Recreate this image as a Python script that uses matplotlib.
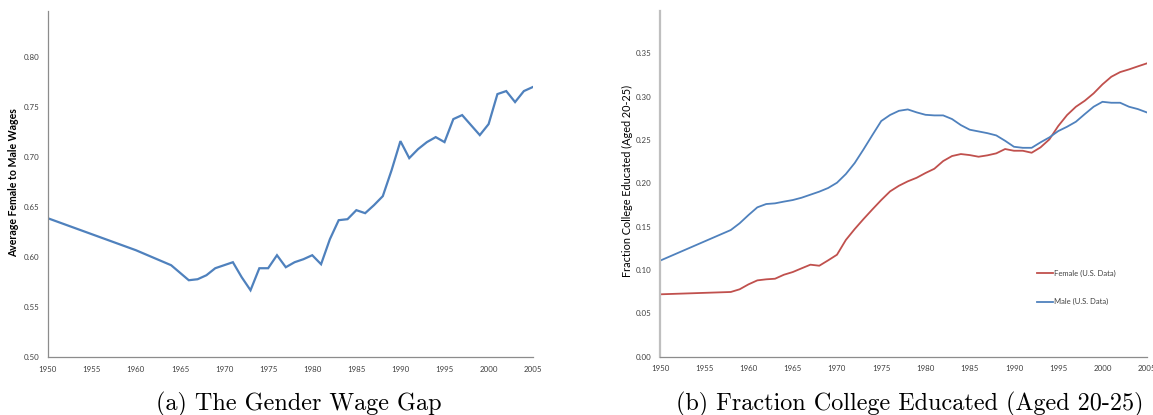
import matplotlib
matplotlib.use("Agg")
import matplotlib.pyplot as plt

# Panel (a): ratio of average female to male wages
wage_years = [1950, 1960, 1964, 1966, 1967, 1968, 1969, 1970, 1971, 1972, 1973,
              1974, 1975, 1976, 1977, 1978, 1979, 1980, 1981, 1982, 1983, 1984,
              1985, 1986, 1987, 1988, 1989, 1990, 1991, 1992, 1993, 1994, 1995,
              1996, 1997, 1998, 1999, 2000, 2001, 2002, 2003, 2004, 2005]
wage_ratio = [0.639, 0.607, 0.592, 0.577, 0.578, 0.582, 0.589, 0.592, 0.595, 0.580, 0.567,
              0.589, 0.589, 0.602, 0.590, 0.595, 0.598, 0.602, 0.593, 0.618, 0.637, 0.638,
              0.647, 0.644, 0.652, 0.661, 0.687, 0.716, 0.699, 0.708, 0.715, 0.720, 0.715,
              0.738, 0.742, 0.732, 0.722, 0.733, 0.763, 0.766, 0.755, 0.766, 0.770]

# Panel (b): fraction college educated, aged 20-25
edu_years = [1950, 1958, 1959, 1960, 1961, 1962, 1963, 1964, 1965, 1966, 1967, 1968,
             1969, 1970, 1971, 1972, 1973, 1974, 1975, 1976, 1977, 1978, 1979, 1980,
             1981, 1982, 1983, 1984, 1985, 1986, 1987, 1988, 1989, 1990, 1991, 1992,
             1993, 1994, 1995, 1996, 1997, 1998, 1999, 2000, 2001, 2002, 2003, 2004, 2005]
female_frac = [0.072, 0.0747, 0.0778, 0.0835, 0.0881, 0.0893, 0.0900, 0.0946, 0.0977, 0.1020,
               0.1062, 0.1050, 0.1112, 0.1177, 0.1347, 0.1473, 0.1589, 0.1700, 0.1808, 0.1908,
               0.1973, 0.2024, 0.2065, 0.2120, 0.2169, 0.2258, 0.2316, 0.2339, 0.2327, 0.2308,
               0.2324, 0.2347, 0.2397, 0.2377, 0.2377, 0.2354, 0.2416, 0.2508, 0.2662, 0.2789,
               0.2885, 0.2954, 0.3039, 0.3143, 0.3231, 0.3285, 0.3316, 0.3351, 0.3385]
male_frac = [0.1108, 0.1462, 0.1540, 0.1635, 0.1724, 0.1762, 0.1770, 0.1790, 0.1808, 0.1835,
             0.1870, 0.1905, 0.1947, 0.2008, 0.2108, 0.2235, 0.2393, 0.2558, 0.2720, 0.2790,
             0.2838, 0.2854, 0.2820, 0.2792, 0.2785, 0.2785, 0.2743, 0.2673, 0.2620, 0.2600,
             0.2580, 0.2554, 0.2492, 0.2423, 0.2411, 0.2411, 0.2474, 0.2531, 0.2604, 0.2654,
             0.2712, 0.2800, 0.2885, 0.2942, 0.2931, 0.2931, 0.2885, 0.2858, 0.2820]

year_ticks = list(range(1950, 2006, 5))
wage_ticks = [0.50, 0.55, 0.60, 0.65, 0.70, 0.75, 0.80]
edu_ticks = [0.00, 0.05, 0.10, 0.15, 0.20, 0.25, 0.30, 0.35]

BLUE = "#4F81BD"
RED = "#C0504D"
TICK_COLOR = "#404040"
FONT = ["Lato", "DejaVu Sans"]

plt.rcParams["font.family"] = FONT

W, H = 1153, 415
fig = plt.figure(figsize=(W / 100, H / 100), dpi=100)


def px_axes(x0, x1, ybot, ytop):
    return fig.add_axes([x0 / W, 1 - ybot / H, (x1 - x0) / W, (ybot - ytop) / H])


def style(ax, left_color):
    for side in ("top", "right"):
        ax.spines[side].set_visible(False)
    ax.spines["bottom"].set_color("#8C8C8C")
    ax.spines["bottom"].set_linewidth(0.9)
    ax.spines["left"].set_color(left_color)
    ax.tick_params(axis="both", length=0, labelsize=5.7, colors=TICK_COLOR)
    ax.tick_params(axis="x", pad=6.2)
    ax.tick_params(axis="y", pad=6)
    ax.set_xlim(1950, 2005)
    ax.set_xticks(year_ticks)
    ax.set_xticklabels([str(y) for y in year_ticks])


# (a) wage gap
ax1 = px_axes(47.7, 532.7, 357.3, 11)
ax1.plot(wage_years, wage_ratio, color=BLUE, lw=1.6, solid_joinstyle="miter")
ax1.set_ylim(0.5, 0.846)
ax1.set_yticks(wage_ticks)
ax1.set_yticklabels([f"{v:.2f}" for v in wage_ticks])
style(ax1, "#8C8C8C")
ax1.spines["left"].set_linewidth(0.9)
ax1.set_ylabel("Average Female to Male Wages", fontsize=7.6, fontweight="bold",
               color="black")
ax1.yaxis.set_label_coords(-0.059, 0.505)

# (b) college education
ax2 = px_axes(660, 1146.7, 356.7, 11)
ax2.plot(edu_years, female_frac, color=RED, lw=1.3, label="Female (U.S. Data)")
ax2.plot(edu_years, male_frac, color=BLUE, lw=1.3, label="Male (U.S. Data)")
ax2.set_ylim(0.0, 0.399)
ax2.set_yticks(edu_ticks)
ax2.set_yticklabels([f"{v:.2f}" for v in edu_ticks])
style(ax2, "#BFBFBF")
ax2.spines["left"].set_linewidth(1.6)
ax2.set_ylabel("Fraction College Educated (Aged 20-25)", fontsize=7.8, color="black")
ax2.yaxis.set_label_coords(-0.0555, 0.508)
ax2.legend(loc="upper left", bbox_to_anchor=(0.7746, 0.252), frameon=False,
           fontsize=5.5, handlelength=2.1, handletextpad=0.1, labelspacing=2.8,
           borderpad=0, borderaxespad=0, labelcolor=TICK_COLOR)

# captions
fig.text(298.5 / W, 1 - 404 / H, "(a) The Gender Wage Gap", family="cmr10",
         fontsize=17.4, ha="center", va="center")
fig.text(910 / W, 1 - 404 / H, "(b) Fraction College Educated (Aged 20-25)",
         family="cmr10", fontsize=17.4, ha="center", va="center")

fig.savefig("out.png", dpi=100)
